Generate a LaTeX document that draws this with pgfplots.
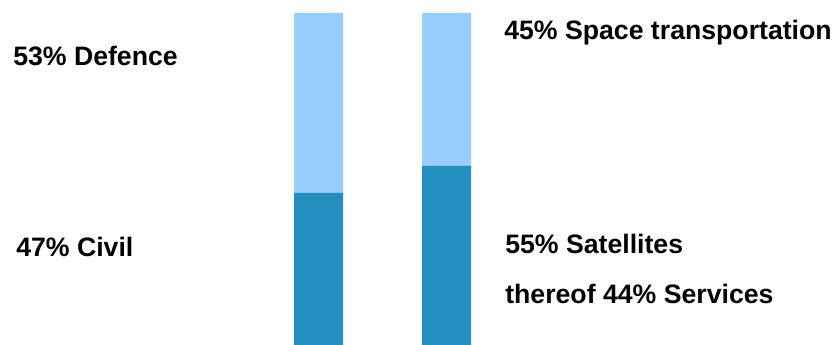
\documentclass[border=0pt]{standalone}
\usepackage{pgfplots}
\pgfplotsset{compat=1.18}
\usepackage{fontspec}
\setmainfont{Liberation Sans}
\definecolor{darkb}{RGB}{36,142,191}
\definecolor{lightb}{RGB}{153,204,255}
\tikzset{lbl/.style={anchor=base west, inner sep=0pt, font=\fontsize{20}{24}\selectfont\bfseries}}
\begin{document}
\begin{tikzpicture}
\begin{axis}[scale only axis, width=625.5pt, height=258.75pt,
  xmin=0, xmax=834, ymin=2.065, ymax=103.83, hide axis,
  ybar stacked, bar width=49, clip mode=individual]
\addplot[fill=darkb, draw=none] coordinates {(318.5,47) (446.5,55)};
\addplot[fill=lightb, draw=none] coordinates {(318.5,53) (446.5,45)};
\node[lbl] at (axis cs:13,84.37) {53\% Defence};
\node[lbl] at (axis cs:16,28.17) {47\% Civil};
\node[lbl] at (axis cs:504,92.04) {45\% Space transportation};
\node[lbl] at (axis cs:505,28.91) {55\% Satellites};
\node[lbl] at (axis cs:505,14.45) {thereof 44\% Services};
\path (rel axis cs:0,0) rectangle (rel axis cs:1,1);
\end{axis}
\end{tikzpicture}
\end{document}
